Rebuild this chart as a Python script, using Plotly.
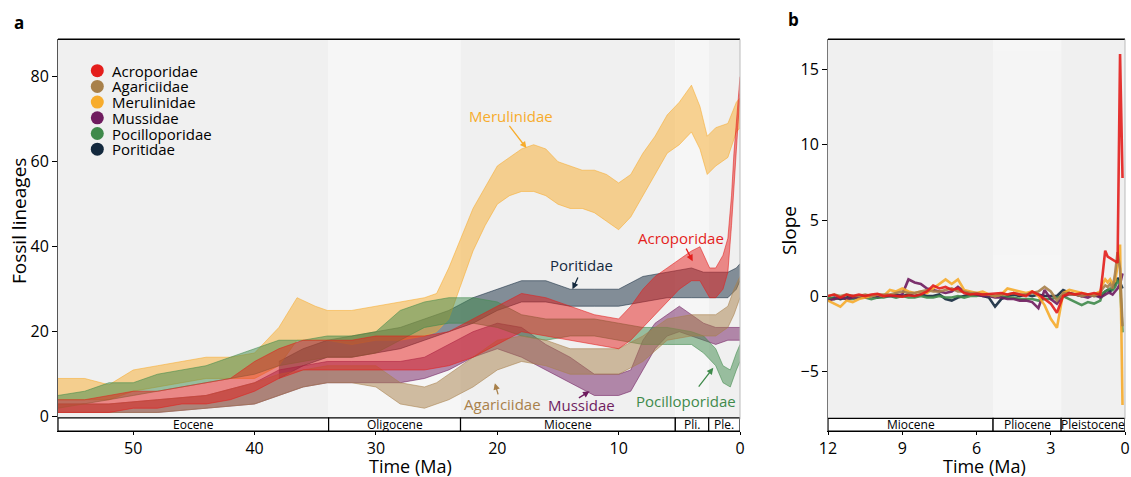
import plotly.graph_objects as go

# ---------------- data: panel a (fossil lineages through time, envelope of replicates) ----------------
FAMILIES = ["Acroporidae", "Agariciidae", "Merulinidae", "Mussidae", "Pocilloporidae", "Poritidae"]
COLORS = {"Acroporidae": "#E41E1C", "Agariciidae": "#A8804A", "Merulinidae": "#F7AC2C",
          "Mussidae": "#6F1C5F", "Pocilloporidae": "#3F8A4B", "Poritidae": "#14293E"}

ACRO_T = [56.2, 54, 52, 50, 48, 46, 44, 42, 40, 38, 36, 34, 32, 30, 28, 26, 24, 22, 20, 18,
          16, 14, 12, 10, 9, 8, 7, 6, 5, 4, 3.3, 2.5, 2, 1.4, 1, 0.7, 0.5, 0.25, 0]
ACRO_LO = [1, 1, 1, 2, 2, 3, 3, 4, 6, 9, 11, 11, 11, 11, 11, 11, 12, 14, 17, 20,
           19, 18, 17, 16, 18, 21, 24, 27, 30, 32, 32, 28, 28, 30, 34, 45, 55, 65, 76]
ACRO_HI = [4, 4, 5, 6, 6, 7, 8, 9, 13, 16, 18, 18, 18, 19, 19, 19, 20, 23, 26, 29,
           28, 26, 24, 23, 26, 30, 33, 35, 37, 39, 40, 35, 35, 38, 42, 52, 62, 72, 80]

MERU_T = [56.2, 54, 52, 50, 48, 46, 44, 42, 40, 38, 36.5, 35, 34, 32, 30, 28, 26, 25, 24, 23,
          22, 21, 20, 19, 18, 17, 16, 15, 14, 13, 12, 11, 10, 9, 8, 7, 6, 5, 4, 3.3,
          2.7, 2, 1, 0.3, 0]
MERU_LO = [4, 4, 4, 6, 7, 8, 9, 9, 9, 12, 18, 18, 18, 17, 18, 18, 19, 20, 23, 31,
           39, 45, 50, 52, 53, 53, 52, 50, 49, 49, 48, 46, 44, 47, 52, 57, 62, 64, 67, 63,
           57, 59, 61, 67, 68]
MERU_HI = [9, 9, 7.5, 11, 12, 13, 14, 14, 15, 21, 28, 26, 25, 25, 26, 27, 28, 29, 35, 42,
           49, 54, 59, 61, 63, 64, 63, 60, 59, 58, 58, 57, 55, 57, 62, 66, 71, 74, 78, 73,
           66, 68, 69, 74, 75]

POCI_T = [56.2, 54, 52, 50, 48, 46, 44, 42, 40, 38, 36, 34, 32, 30, 28, 26, 24, 22, 20, 18,
          16, 14, 12, 10, 8, 6, 4, 3, 2, 1.4, 0.8, 0.3, 0]
POCI_LO = [2, 3, 4, 5, 6, 7, 8, 9, 10, 12, 13, 14, 14, 15, 18, 21, 22, 22, 21, 19,
           18, 19, 19, 18, 17, 17, 17, 15, 12, 8, 7, 11, 13]
POCI_HI = [5, 6, 8, 8, 10, 11, 12, 14, 16, 18, 18, 19, 19, 20, 25, 27, 28, 28, 27, 24,
           23, 23, 23, 22, 21, 21, 20, 19, 16, 12, 11, 15, 17]

PORI_T = [38, 36, 34, 32, 30, 28, 26, 24, 22, 20, 18, 16, 14, 12, 10,
          8, 6, 4, 3, 2, 1, 0.3, 0]
PORI_LO = [9, 12, 14, 14, 15, 16, 18, 20, 22, 25, 27, 27, 26, 26, 26,
           27, 28, 28, 28, 28, 28, 30, 32]
PORI_HI = [13, 16, 18, 19, 20, 21, 23, 25, 28, 30, 32, 32, 30, 30, 30,
           33, 34, 35, 34, 34, 34, 35, 36]

AGAR_T = [56.2, 52, 48, 44, 40, 38, 36, 34, 32, 30, 29, 28, 26, 25, 24, 22, 20, 18, 16, 14,
          12, 10, 8, 6, 4, 2, 1, 0.5, 0]
AGAR_LO = [1, 1, 1, 2, 3, 5, 7, 8, 8, 7, 5, 3, 2, 3, 4, 7, 11, 13, 12, 10,
           10, 10, 13, 18, 19, 19, 21, 24, 28]
AGAR_HI = [3, 3, 4, 5, 8, 10, 11, 12, 12, 12, 10, 8, 7, 8, 10, 14, 18, 19, 18, 16,
           16, 16, 19, 23, 24, 24, 26, 30, 33]

MUSS_T = [56.2, 52, 48, 44, 40, 38, 36, 34, 32, 30, 28, 26, 24, 22, 20, 18, 16, 14, 12, 10,
          9, 8, 7, 6, 5, 4, 3, 2, 1, 0]
MUSS_LO = [1, 1, 1, 2, 3, 5, 7, 8, 8, 8, 8, 9, 11, 14, 16, 14, 11, 8, 5, 5,
           6, 11, 16, 19, 20, 19, 18, 17, 18, 18]
MUSS_HI = [3, 3, 4, 5, 8, 11, 12, 13, 13, 13, 13, 14, 17, 20, 22, 21, 17, 14, 10, 10,
           11, 18, 22, 24, 26, 24, 22, 21, 21, 21]

# ---------------- data: panel b (slope through time) ----------------
TB = [12.0, 11.75, 11.5, 11.25, 11.0, 10.75, 10.5, 10.25, 10.0,
      9.75, 9.5, 9.25, 9.0, 8.75, 8.5, 8.25, 8.0, 7.75,
      7.5, 7.25, 7.0, 6.75, 6.5, 6.25, 6.0, 5.75, 5.5,
      5.25, 5.0, 4.75, 4.5, 4.25, 4.0, 3.75, 3.5, 3.25,
      3.0, 2.75, 2.5, 2.25, 2.0, 1.75, 1.5, 1.25, 1.0,
      0.9, 0.8, 0.7, 0.6, 0.5, 0.4, 0.3, 0.2, 0.1]
ACRO_S = [0.0, 0.1, -0.1, 0.1, 0.0, 0.1, 0.0, 0.1, 0.15,
          0.0, 0.05, 0.0, -0.05, 0.05, 0.0, 0.1, 0.3, 0.7,
          0.5, 0.6, 0.4, 0.5, 0.2, 0.1, 0.15, 0.1, 0.15,
          0.2, 0.2, 0.1, 0.2, 0.1, 0.0, 0.3, 0.1, -0.2,
          -0.5, -1.1, 0.0, 0.2, 0.1, 0.2, 0.1, 0.2, 0.1,
          1.5, 3.0, 2.6, 2.5, 2.4, 2.3, 2.2, 16.0, 7.8]
MERU_S = [-0.3, -0.5, -0.7, -0.3, -0.4, -0.2, -0.1, 0.0, 0.1,
          0.0, 0.4, 0.3, 0.5, 0.3, 0.2, 0.3, 0.2, 0.5,
          0.8, 1.1, 0.8, 1.1, 0.4, 0.3, 0.2, 0.3, 0.1,
          0.0, 0.1, 0.5, 0.4, 0.3, 0.2, 0.3, 0.0, -0.6,
          -1.5, -2.1, 0.2, 0.4, 0.3, 0.2, 0.1, 0.1, 0.3,
          0.8, 1.1, 0.9, 1.1, 0.8, 1.0, 2.0, 3.4, -7.2]
AGAR_S = [0.0, 0.1, 0.0, 0.1, 0.0, 0.0, 0.1, 0.0, 0.1,
          0.1, 0.1, 0.2, 0.3, 0.2, 0.2, 0.3, 0.4, 0.3,
          0.3, 0.4, 0.5, 0.3, 0.3, 0.2, 0.2, 0.1, 0.1,
          0.0, 0.1, 0.1, 0.2, 0.1, 0.1, 0.2, 0.3, 0.6,
          0.3, -0.3, 0.2, 0.1, 0.1, 0.0, 0.1, 0.0, 0.2,
          0.5, 0.7, 0.6, 0.8, 0.5, 1.5, 2.9, 1.8, -2.0]
POCI_S = [-0.1, -0.2, -0.1, -0.2, -0.2, -0.1, -0.1, -0.2, -0.1,
          -0.1, 0.0, -0.1, 0.0, -0.1, -0.1, 0.0, -0.1, -0.1,
          0.0, -0.1, -0.1, 0.0, -0.1, 0.0, 0.0, 0.1, 0.0,
          0.0, 0.0, -0.1, -0.1, -0.2, -0.2, -0.2, -0.3, -0.2,
          -0.2, -0.1, 0.0, -0.2, -0.4, -0.6, -0.4, -0.5, -0.3,
          0.2, 0.3, 0.4, 0.5, 0.4, 0.6, 1.0, 0.8, -2.4]
MUSS_S = [-0.3, -0.2, -0.1, -0.2, -0.1, -0.1, -0.1, 0.0, 0.0,
          0.0, 0.0, 0.0, 0.1, 1.1, 0.9, 0.8, 0.5, 0.4,
          0.3, 0.2, 0.3, 0.6, 0.3, 0.2, 0.1, 0.0, 0.0,
          -0.1, -0.1, -0.2, -0.2, -0.3, -0.3, -0.4, -0.8, 0.4,
          -0.2, -0.5, 0.0, 0.1, 0.1, 0.0, -0.1, 0.1, -0.1,
          0.0, 0.1, 0.2, 0.2, 0.1, 0.3, 0.5, 0.8, 1.5]
PORI_S = [-0.2, -0.1, -0.2, -0.1, 0.0, -0.1, 0.0, 0.0, -0.1,
          0.0, 0.0, 0.1, 0.0, 0.1, 0.0, 0.1, 0.0, 0.0,
          0.1, -0.2, -0.3, -0.1, 0.0, 0.1, 0.1, 0.0, -0.1,
          -0.7, -0.2, 0.0, 0.1, 0.0, 0.1, 0.0, 0.1, 0.0,
          0.0, 0.0, 0.4, 0.2, 0.1, 0.0, 0.1, 0.0, 0.0,
          0.1, 0.3, 0.4, 0.3, 0.5, 0.8, 1.2, 0.9, 0.5]

# geological epochs
EPOCH_A_NAMES = ["Eocene", "Oligocene", "Miocene", "Pli.", "Ple."]
EPOCH_A_BOUNDS = [56.2, 33.9, 23.03, 5.33, 2.58, 0]
EPOCH_B_NAMES = ["Miocene", "Pliocene", "Pleistocene"]
EPOCH_B_BOUNDS = [12, 5.33, 2.58, 0]

# ---------------- figure ----------------
W, H = 1131, 477
FONT = "Open Sans"


def rgba(h, a):
    h = h.lstrip("#")
    return "rgba(%d,%d,%d,%.2f)" % (int(h[0:2], 16), int(h[2:4], 16), int(h[4:6], 16), a)


def px(x):
    return x / W


def py(y):
    return 1 - y / H


A_RANGE_X = [56.2, 0]
A_RANGE_Y = [-3.36, 88.8]
B_RANGE_X = [12, 0]
B_RANGE_Y = [-8.92, 16.97]
BAR_A = [-3.36, -0.25]
BAR_B = [-8.92, -8.08]

fig = go.Figure()

bands = {
    "Poritidae": (PORI_T, PORI_LO, PORI_HI),
    "Mussidae": (MUSS_T, MUSS_LO, MUSS_HI),
    "Merulinidae": (MERU_T, MERU_LO, MERU_HI),
    "Pocilloporidae": (POCI_T, POCI_LO, POCI_HI),
    "Agariciidae": (AGAR_T, AGAR_LO, AGAR_HI),
    "Acroporidae": (ACRO_T, ACRO_LO, ACRO_HI),
}
for fam, (t, lo, hi) in bands.items():
    c = COLORS[fam]
    fig.add_trace(go.Scatter(x=t, y=lo, mode="lines", line=dict(color=rgba(c, 0.55), width=1),
                             xaxis="x", yaxis="y", showlegend=False, hoverinfo="skip"))
    fig.add_trace(go.Scatter(x=t, y=hi, mode="lines", line=dict(color=rgba(c, 0.55), width=1),
                             fill="tonexty", fillcolor=rgba(c, 0.5),
                             xaxis="x", yaxis="y", showlegend=False, hoverinfo="skip"))

slopes = {
    "Poritidae": PORI_S, "Pocilloporidae": POCI_S, "Mussidae": MUSS_S,
    "Merulinidae": MERU_S, "Agariciidae": AGAR_S, "Acroporidae": ACRO_S,
}
for fam, s in slopes.items():
    fig.add_trace(go.Scatter(x=TB, y=s, mode="lines", line=dict(color=COLORS[fam], width=2.6),
                             opacity=0.9, xaxis="x2", yaxis="y2", showlegend=False, hoverinfo="skip"))

shapes = []
annotations = []
BG = ["#F0F0F0", "#F6F6F6"]


def epoch_bar(names, bounds, xref, yref, bar, ytop):
    for i, name in enumerate(names):
        x0, x1 = bounds[i], bounds[i + 1]
        shapes.append(dict(type="rect", xref=xref, yref=yref, x0=x0, x1=x1, y0=bar[1], y1=ytop,
                           fillcolor=BG[i % 2], line=dict(width=0), layer="below"))
        shapes.append(dict(type="rect", xref=xref, yref=yref, x0=x0, x1=x1, y0=bar[0], y1=bar[1],
                           fillcolor="white", line=dict(color="black", width=1.2), layer="above"))
        annotations.append(dict(x=(x0 + x1) / 2, y=(bar[0] + bar[1]) / 2, xref=xref, yref=yref,
                                text=name, showarrow=False, font=dict(size=12, color="black", family=FONT),
                                xanchor="center", yanchor="middle"))


epoch_bar(EPOCH_A_NAMES, EPOCH_A_BOUNDS, "x", "y", BAR_A, A_RANGE_Y[1])
epoch_bar(EPOCH_B_NAMES, EPOCH_B_BOUNDS, "x2", "y2", BAR_B, B_RANGE_Y[1])

for xd, yd in (("x domain", "y domain"), ("x2 domain", "y2 domain")):
    shapes.append(dict(type="line", xref=xd, yref=yd, x0=0, x1=1, y0=1, y1=1,
                       line=dict(color="black", width=1.5), layer="above"))
    shapes.append(dict(type="line", xref=xd, yref=yd, x0=1, x1=1, y0=0.03, y1=1,
                       line=dict(color="#BBBBBB", width=1), layer="above"))

# legend (manual)
leg_y = [70.7, 86.4, 102.1, 117.8, 133.5, 149.2]
for fam, yc in zip(FAMILIES, leg_y):
    r = 6.5
    shapes.append(dict(type="circle", xref="paper", yref="paper",
                       x0=px(97.3 - r), x1=px(97.3 + r), y0=py(yc + r), y1=py(yc - r),
                       fillcolor=COLORS[fam], line=dict(width=0), layer="above"))
    annotations.append(dict(x=px(110), y=py(yc), xref="paper", yref="paper", text=fam,
                            showarrow=False, xanchor="left", yanchor="middle",
                            font=dict(size=15, color="black", family=FONT)))

# family labels with arrows (panel a, data coords)
labels = [
    ("Merulinidae", 18.9, 70.8, (19.1, 68.8), (17.6, 63.2)),
    ("Acroporidae", 4.9, 42.0, (4.5, 39.9), (3.9, 36.6)),
    ("Poritidae", 13.1, 35.7, (13.3, 33.1), (13.8, 30.0)),
    ("Agariciidae", 19.6, 3.1, (19.9, 4.9), (20.2, 7.9)),
    ("Mussidae", 13.1, 2.7, (13.4, 4.2), (12.4, 6.0)),
    ("Pocilloporidae", 4.45, 3.6, (3.5, 6.75), (2.2, 11.5)),
]
for fam, tx, ty, tail, head in labels:
    c = COLORS[fam]
    annotations.append(dict(x=tx, y=ty, xref="x", yref="y", text=fam, showarrow=False,
                            xanchor="center", yanchor="middle",
                            font=dict(size=15, color=c, family=FONT)))
    annotations.append(dict(x=head[0], y=head[1], ax=tail[0], ay=tail[1], xref="x", yref="y",
                            axref="x", ayref="y", text="", showarrow=True, arrowhead=2,
                            arrowsize=1, arrowwidth=1.3, arrowcolor=c, standoff=0, startstandoff=0))

# titles and panel letters
annotations += [
    dict(x=px(19), y=py(22), xref="paper", yref="paper", text="<b>a</b>", showarrow=False,
         font=dict(size=17, color="black", family=FONT), xanchor="center", yanchor="middle"),
    dict(x=px(793), y=py(20), xref="paper", yref="paper", text="<b>b</b>", showarrow=False,
         font=dict(size=17, color="black", family=FONT), xanchor="center", yanchor="middle"),
    dict(x=px(19), y=py(221), xref="paper", yref="paper", text="Fossil lineages", textangle=-90,
         showarrow=False, font=dict(size=19, color="black", family=FONT), xanchor="center", yanchor="middle"),
    dict(x=px(789), y=py(231), xref="paper", yref="paper", text="Slope", textangle=-90,
         showarrow=False, font=dict(size=19, color="black", family=FONT), xanchor="center", yanchor="middle"),
    dict(x=px(410), y=py(466), xref="paper", yref="paper", text="Time (Ma)", showarrow=False,
         font=dict(size=18, color="black", family=FONT), xanchor="center", yanchor="middle"),
    dict(x=px(984), y=py(466), xref="paper", yref="paper", text="Time (Ma)", showarrow=False,
         font=dict(size=18, color="black", family=FONT), xanchor="center", yanchor="middle"),
]

ydom = [py(431), py(39.3)]
axis_common = dict(showgrid=False, zeroline=False, ticks="outside", tickwidth=1, automargin=False,
                   tickcolor="black", tickfont=dict(size=16, color="black", family=FONT))

fig.update_layout(
    width=W, height=H, margin=dict(l=0, r=0, t=0, b=0, autoexpand=False),
    paper_bgcolor="white", plot_bgcolor="white", showlegend=False,
    font=dict(family=FONT, color="black"),
    xaxis=dict(domain=[px(58), px(740)], range=A_RANGE_X, tickvals=[50, 40, 30, 20, 10, 0], ticklen=3,
               showline=True, linecolor="black", linewidth=1.2, anchor="y", **axis_common),
    yaxis=dict(domain=ydom, range=A_RANGE_Y, tickvals=[0, 20, 40, 60, 80], ticklen=5,
               showline=True, linecolor="#555555", linewidth=1, anchor="x", **axis_common),
    xaxis2=dict(domain=[px(828), px(1125)], range=B_RANGE_X, tickvals=[12, 9, 6, 3, 0], ticklen=3,
                showline=True, linecolor="black", linewidth=1.2, anchor="y2", **axis_common),
    yaxis2=dict(domain=ydom, range=B_RANGE_Y, tickvals=[15, 10, 5, 0, -5], ticklen=5,
                showline=True, linecolor="#777777", linewidth=1, anchor="x2", **axis_common),
    shapes=shapes, annotations=annotations,
)

fig.write_html("out.html", config={"displayModeBar": False},
               post_script="document.body.style.margin='0px';document.body.style.overflow='hidden';")
